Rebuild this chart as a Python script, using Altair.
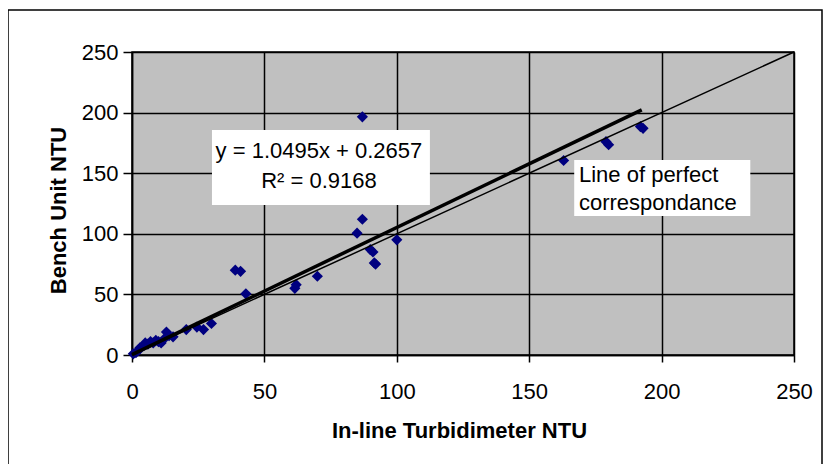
import altair as alt
import pandas as pd

# ---- data ----
INLINE_NTU = [0.5, 1.5, 2.5, 3, 4.5, 5, 6, 7, 8, 9, 10, 11, 12, 13, 14, 15.5, 20.5, 24.5, 27, 30,
              39, 41, 43, 61.5, 62, 70, 85, 87, 87, 90, 91, 91.5, 92, 100, 163, 179, 180, 192, 193]
BENCH_NTU = [1, 2, 4, 6, 8, 10, 9, 11, 10, 12, 11, 10, 13, 19, 16, 15, 21, 23, 21, 26,
             70, 69, 50.5, 55, 58, 65, 100.5, 112, 196.5, 87, 85, 76, 75, 95, 160.5, 176, 173.5, 188.5, 187]

SLOPE = 1.0495
INTERCEPT = 0.2657
TREND_X = [0, 192.5]
PERFECT = [0, 250]
TICKS = [0, 50, 100, 150, 200, 250]

EQ_LINES = ["y = 1.0495x + 0.2657", "R² = 0.9168"]
LEGEND_LINES = ["Line of perfect", "correspondance"]

FONT = "Liberation Sans"
XS = alt.Scale(domain=[0, 250], nice=False)
YS = alt.Scale(domain=[0, 250], nice=False)

pts = pd.DataFrame({"x": INLINE_NTU, "y": BENCH_NTU})
trend = pd.DataFrame({"x": TREND_X, "y": [SLOPE * v + INTERCEPT for v in TREND_X]})
perfect = pd.DataFrame({"x": PERFECT, "y": PERFECT})

x_axis = alt.Axis(values=TICKS, grid=True, gridColor="black", gridWidth=1.5,
                  domainColor="black", domainWidth=1.5, tickColor="black", tickWidth=1.5,
                  tickSize=7, labelFont=FONT, labelFontSize=22, labelColor="black",
                  labelPadding=36, labelBaseline="alphabetic", labelFlush=False,
                  labelOverlap=False, title="In-line Turbidimeter NTU", titleFont=FONT,
                  titleFontSize=22, titleFontWeight="bold", titleColor="black",
                  titleX=327, titleY=82, titleBaseline="alphabetic")
y_axis = alt.Axis(values=TICKS, grid=True, gridColor="black", gridWidth=1.5,
                  domainColor="black", domainWidth=1.5, tickColor="black", tickWidth=1.5,
                  tickSize=9, labelFont=FONT, labelFontSize=22, labelColor="black",
                  labelPadding=5, labelBaseline="middle", labelFlush=False,
                  labelOverlap=False, title="Bench Unit NTU", titleFont=FONT,
                  titleFontSize=22, titleFontWeight="bold", titleColor="black",
                  titleAngle=270, titleX=-67, titleY=158, titleBaseline="alphabetic")

points = alt.Chart(pts).mark_point(shape="diamond", filled=True, size=125,
                                   color="#000080", opacity=1).encode(
    x=alt.X("x:Q", scale=XS, axis=x_axis),
    y=alt.Y("y:Q", scale=YS, axis=y_axis),
)

trend_line = alt.Chart(trend).mark_line(color="black", strokeWidth=3.5).encode(
    x=alt.X("x:Q", scale=XS), y=alt.Y("y:Q", scale=YS))
perfect_line = alt.Chart(perfect).mark_line(color="black", strokeWidth=1.5).encode(
    x=alt.X("x:Q", scale=XS), y=alt.Y("y:Q", scale=YS))

# annotation boxes (data coordinates)
boxes = pd.DataFrame({"x": [30.2, 167.0], "x2": [112.5, 233.5],
                      "y": [123.8, 114.7], "y2": [185.6, 160.9]})
box_marks = alt.Chart(boxes).mark_rect(color="white").encode(
    x=alt.X("x:Q", scale=XS), x2="x2", y=alt.Y("y:Q", scale=YS), y2="y2")

eq = pd.DataFrame({"t": EQ_LINES, "x": [70.6, 70.6], "y": [162.5, 137.8]})
eq_text = alt.Chart(eq).mark_text(font=FONT, fontSize=22, color="black",
                                  align="center", baseline="alphabetic").encode(
    x=alt.X("x:Q", scale=XS), y=alt.Y("y:Q", scale=YS), text="t:N")

lg = pd.DataFrame({"t": LEGEND_LINES, "x": [168.8, 168.8], "y": [143.0, 119.6]})
lg_text = alt.Chart(lg).mark_text(font=FONT, fontSize=22, color="black",
                                  align="left", baseline="alphabetic").encode(
    x=alt.X("x:Q", scale=XS), y=alt.Y("y:Q", scale=YS), text="t:N")

frame = alt.Chart(alt.Data(values=[{}])).mark_rect(
    fillOpacity=0, stroke="black", strokeWidth=1.5).encode(
    x=alt.value(-124), x2=alt.value(690), y=alt.value(-42), y2=alt.value(418))

chart = alt.layer(points, perfect_line, trend_line, box_marks, eq_text, lg_text, frame).properties(
    width=662, height=303,
    autosize=alt.AutoSizeParams(type="none"),
    padding={"left": 124, "top": 44, "right": 29, "bottom": 109},
    background="white",
).configure_view(stroke="black", strokeWidth=1.5, fill="#C0C0C0")

chart.save("out.html", embed_options={"renderer": "svg", "actions": False})
